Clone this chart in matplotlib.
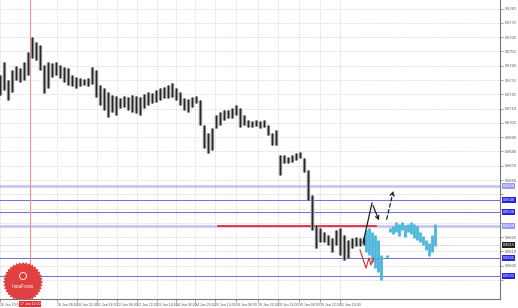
import matplotlib.pyplot as plt
import matplotlib.patches as mpatches
import numpy as np

plt.rcParams['font.family'] = ['Liberation Sans Narrow', 'Liberation Sans', 'DejaVu Sans']

# history bars (H1, one bar read every 4 hours), highs and lows
highs = [0.87335, 0.87426, 0.87300, 0.87370, 0.87398, 0.87384, 0.87426, 0.87496, 0.87601, 0.87566,
         0.87545, 0.87405, 0.87426, 0.87419, 0.87426, 0.87405, 0.87391, 0.87384, 0.87335, 0.87321,
         0.87314, 0.87307, 0.87314, 0.87391, 0.87370, 0.87265, 0.87244, 0.87216, 0.87195, 0.87188,
         0.87174, 0.87188, 0.87181, 0.87195, 0.87188, 0.87181, 0.87202, 0.87216, 0.87209, 0.87230,
         0.87244, 0.87251, 0.87265, 0.87279, 0.87244, 0.87216, 0.87174, 0.87167, 0.87181, 0.87188,
         0.87160, 0.86985, 0.86929, 0.86964, 0.87055, 0.87076, 0.87090, 0.87090, 0.87104, 0.87125,
         0.87104, 0.87055, 0.87020, 0.87013, 0.87020, 0.87013, 0.87020, 0.86985, 0.86929, 0.86950,
         0.86775, 0.86775, 0.86761, 0.86775, 0.86789, 0.86796, 0.86754, 0.86670, 0.86495, 0.86285,
         0.86264, 0.86236, 0.86215, 0.86194, 0.86250, 0.86264, 0.86215, 0.86180, 0.86194, 0.86201,
         0.86194, 0.86201]
lows = [0.87195, 0.87230, 0.87160, 0.87216, 0.87300, 0.87286, 0.87300, 0.87335, 0.87454, 0.87440,
        0.87370, 0.87209, 0.87244, 0.87321, 0.87335, 0.87314, 0.87286, 0.87265, 0.87258, 0.87244,
        0.87258, 0.87265, 0.87258, 0.87272, 0.87181, 0.87125, 0.87090, 0.87041, 0.87076, 0.87055,
        0.87104, 0.87111, 0.87090, 0.87076, 0.87069, 0.87055, 0.87104, 0.87125, 0.87139, 0.87146,
        0.87160, 0.87174, 0.87174, 0.87181, 0.87160, 0.87125, 0.87090, 0.87076, 0.87111, 0.87139,
        0.86985, 0.86824, 0.86789, 0.86810, 0.86964, 0.86985, 0.87020, 0.87034, 0.87034, 0.87055,
        0.86971, 0.86985, 0.86971, 0.86971, 0.86978, 0.86964, 0.86971, 0.86915, 0.86845, 0.86845,
        0.86635, 0.86719, 0.86719, 0.86726, 0.86740, 0.86754, 0.86656, 0.86460, 0.86250, 0.86124,
        0.86166, 0.86166, 0.86145, 0.86096, 0.86145, 0.86075, 0.86040, 0.86054, 0.86124, 0.86138,
        0.86138, 0.86145]
bar_hours = np.arange(len(highs)) * 4

# projected (analog) bars in cyan
proj_hours = [366, 369, 372, 375, 378, 381, 387, 390, 393, 396, 399, 402, 405, 408, 411,
              414, 417, 420, 423, 426, 429, 432, 435]
proj_highs = [0.86250, 0.86264, 0.86236, 0.86215, 0.86180, 0.86075, 0.86075, 0.86264, 0.86278,
              0.86306, 0.86292, 0.86306, 0.86285, 0.86292, 0.86306, 0.86292, 0.86278, 0.86236,
              0.86208, 0.86180, 0.86159, 0.86215, 0.86292]
proj_lows = [0.86096, 0.86075, 0.86026, 0.85984, 0.85956, 0.85900, 0.86054, 0.86236, 0.86222,
             0.86236, 0.86208, 0.86250, 0.86201, 0.86236, 0.86222, 0.86194, 0.86180, 0.86166,
             0.86145, 0.86110, 0.86068, 0.86096, 0.86138]

# support / resistance levels
levels = [0.86558, 0.86460, 0.86376, 0.86278, 0.86054, 0.85928]
level_strong = [True, False, False, True, False, False]
red_level = 0.86278
red_level_span = [218, 376]
current_price = 0.86145
marker_hour = 30

# hand drawn scenario lines
black_path_t = [363, 372, 380]
black_path_p = [0.86159, 0.86439, 0.86299]
dash_t = [386, 394]
dash_p = [0.86306, 0.86544]
red_path_t = [360, 366, 369, 371, 374]
red_path_p = [0.86110, 0.85984, 0.86054, 0.86005, 0.86054]

# axis labels
price_ticks = np.round(np.arange(0.8590, 0.8781, 0.0010), 4)
time_ticks = [0, 57, 77, 97, 117, 137, 157, 176, 195, 215, 236, 258, 278, 299, 320, 340]
time_labels = ["16 Jan 20:00", "18 Jan 08:00", "18 Jan 22:00", "21 Jan 16:00", "22 Jan 08:00",
               "22 Jan 22:00", "23 Jan 14:00", "24 Jan 06:00", "24 Jan 20:00", "25 Jan 14:00",
               "28 Jan 08:00", "28 Jan 22:00", "29 Jan 14:00", "30 Jan 08:00", "30 Jan 22:00",
               "31 Jan 14:00"]
marker_label = "17 Jan 11:00"

fig = plt.figure(figsize=(5.18, 3.08), dpi=100)
ax = fig.add_axes([0, 9 / 308, 500 / 518, 299 / 308])
ax.set_xlim(0, 500)
ax.set_ylim(0.85767, 0.87860)

# grid, hide price labels that sit under a level box
all_boxes = levels + [current_price]
ax.set_yticks(price_ticks)
ax.set_yticklabels(["" if min(abs(p - b) for b in all_boxes) < 0.0004 else "%.4f" % p
                    for p in price_ticks])
ax.set_xticks(time_ticks)
ax.set_xticklabels(time_labels, ha="left")
ax.grid(True, color="#dadada", linestyle=(0, (1, 1)), linewidth=0.7)
ax.set_axisbelow(True)

ax.yaxis.tick_right()
ax.tick_params(axis="y", labelsize=2.8, length=2, width=0.4, pad=1.2, colors="#555555")
ax.tick_params(axis="x", labelsize=2.5, length=2, width=0.4, pad=1, colors="#555555")
for side in ["left", "top"]:
    ax.spines[side].set_visible(False)
for side in ["right", "bottom"]:
    ax.spines[side].set_color("#777777")
    ax.spines[side].set_linewidth(0.8)

# levels
for lv, strong in zip(levels, level_strong):
    if strong:
        ax.axhline(lv, color="#c8c8f2", lw=2.0, zorder=1)
    else:
        ax.axhline(lv, color="#7474e0", lw=0.75, zorder=1)
ax.plot(red_level_span, [red_level, red_level], color="#e52222", lw=1.2, zorder=2)
ax.axhline(current_price, color="#d4d4d4", lw=0.5, zorder=1)
ax.axvline(marker_hour, color="#ff8c8c", lw=0.8, zorder=1)

# bars
ax.vlines(bar_hours, lows, highs, color="#8c8c8c", lw=2.4, zorder=3)
ax.vlines(bar_hours, lows, highs, color="#262626", lw=0.8, zorder=4)
ax.vlines(proj_hours, proj_lows, proj_highs, color="#4cb6da", lw=2.0, zorder=3)

# drawn paths
ax.plot(black_path_t[:2], black_path_p[:2], color="#202020", lw=0.9, zorder=5)
ax.annotate("", xy=(black_path_t[2], black_path_p[2]), xytext=(black_path_t[1], black_path_p[1]),
            arrowprops=dict(arrowstyle="->", color="#202020", lw=0.9, mutation_scale=6), zorder=5)
ax.annotate("", xy=(dash_t[1], dash_p[1]), xytext=(dash_t[0], dash_p[0]),
            arrowprops=dict(arrowstyle="->", color="#202020", lw=0.9, linestyle=(0, (3, 2)),
                            mutation_scale=7), zorder=5)
ax.plot(red_path_t, red_path_p, color="#e52222", lw=0.8, zorder=5)

# price labels on the right scale
ytr = ax.get_yaxis_transform()
for lv, strong in zip(levels, level_strong):
    ax.text(1.005, lv, "%.4f" % lv, transform=ytr, fontsize=2.8, color="white", va="center",
            ha="left", bbox=dict(boxstyle="square,pad=0.25", fc="#9a9af0" if strong else "#2626e0",
                                 ec="none"), clip_on=False)
ax.text(1.005, current_price, "%.4f" % current_price, transform=ytr, fontsize=2.8, color="white",
        va="center", ha="left", bbox=dict(boxstyle="square,pad=0.25", fc="#222222", ec="none"),
        clip_on=False)

# marker date on time scale
xtr = ax.get_xaxis_transform()
ax.text(marker_hour, -0.011, marker_label, transform=xtr, fontsize=2.5, color="white", va="top",
        ha="center", bbox=dict(boxstyle="square,pad=0.3", fc="#e83030", ec="none"), clip_on=False)

# InstaForex badge
cx, cy = 23 / 500, 1 - 282 / 299
ang = np.linspace(0, 2 * np.pi, 73)
rad = np.where(np.arange(73) % 2 == 0, 1.0, 0.9)
bx = cx + rad * np.cos(ang) * 20 / 500
by = cy + rad * np.sin(ang) * 20 / 299
ax.add_patch(mpatches.Polygon(np.c_[bx, by], closed=True, transform=ax.transAxes,
                              fc="#e04040", ec="none", zorder=6))
ax.add_patch(mpatches.Ellipse((cx, cy + 6 / 299), 7 / 500, 7 / 299, transform=ax.transAxes,
                              fc="none", ec="white", lw=0.6, zorder=7))
ax.text(cx, cy - 4 / 299, "InstaForex", transform=ax.transAxes, fontsize=3.3, color="white",
        ha="center", va="center", zorder=7)

plt.savefig("out.png", dpi=100)
